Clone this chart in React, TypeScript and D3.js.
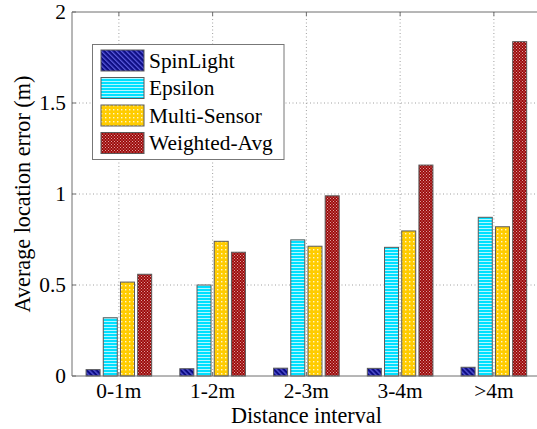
import React from "react";
import * as d3 from "d3";

// values
const intervals = ["0-1m", "1-2m", "2-3m", "3-4m", ">4m"];
const seriesNames = ["SpinLight", "Epsilon", "Multi-Sensor", "Weighted-Avg"];
const spinLight = [0.035, 0.04, 0.043, 0.042, 0.048];
const epsilon = [0.32, 0.5, 0.748, 0.707, 0.872];
const multiSensor = [0.516, 0.74, 0.713, 0.797, 0.82];
const weightedAvg = [0.559, 0.68, 0.99, 1.159, 1.837];
const yTicks = [0, 0.5, 1, 1.5, 2];
const yTickLabels = ["0", "0.5", "1", "1.5", "2"];

const seriesValues = [spinLight, epsilon, multiSensor, weightedAvg];
const patternIds = ["pSpin", "pEps", "pMulti", "pWeighted"];

const W = 537;
const H = 429;
const margin = { left: 72, top: 12, bottom: 53 };
const plotRight = 540.75;
const font = "Liberation Serif";
const axisColor = "#6e6e6e";

const App = () => {
  const x = d3.scaleLinear().domain([0.5, intervals.length + 0.5]).range([margin.left, plotRight]);
  const y = d3.scaleLinear().domain([0, 2]).range([H - margin.bottom, margin.top]);
  const inner = d3.scaleBand<string>().domain(seriesNames).range([-32.8, 32.8]).paddingInner(0.186);

  const bottom = y(0);
  const top = y(2);
  const textStyle = { fontFamily: font, fontSize: "21.4px" };
  const labelStyle = { fontFamily: font, fontSize: "22.2px" };

  return (
    <svg width={W} height={H} style={{ position: "absolute", left: 0, top: 0, background: "#fff" }}>
      <defs>
        <pattern id="pSpin" width={3.5} height={3.5} patternUnits="userSpaceOnUse" patternTransform="rotate(-45)">
          <rect width={3.5} height={3.5} fill="#0c0c82" />
          <rect width={1.3} height={3.5} fill="#5858d8" />
        </pattern>
        <pattern id="pEps" width={4} height={3} patternUnits="userSpaceOnUse">
          <rect width={4} height={3} fill="#00e0ff" />
          <rect width={4} height={1} fill="#b4f6ff" />
        </pattern>
        <pattern id="pMulti" width={4} height={4} patternUnits="userSpaceOnUse">
          <rect width={4} height={4} fill="#ffcc00" />
          <rect x={1} y={1} width={1.4} height={1.4} fill="#fff6c8" />
        </pattern>
        <pattern id="pWeighted" width={3} height={3} patternUnits="userSpaceOnUse">
          <rect width={3} height={3} fill="#9c0a0a" />
          <rect width={1} height={1} fill="#e0a0a0" />
          <rect x={1.5} y={1.5} width={1} height={1} fill="#e0a0a0" />
        </pattern>
      </defs>

      {/* grid */}
      <g stroke="#a0a0a0" strokeWidth={1} strokeDasharray="1,2.5">
        {yTicks.slice(1, -1).map((t) => (
          <line key={"gy" + t} x1={margin.left} x2={plotRight} y1={y(t)} y2={y(t)} />
        ))}
        {intervals.map((d, i) => (
          <line key={"gx" + d} x1={x(i + 1)} x2={x(i + 1)} y1={top} y2={bottom} />
        ))}
      </g>

      {/* bars */}
      {seriesValues.map((vals, s) => (
        <g key={seriesNames[s]}>
          {vals.map((v, i) => (
            <rect
              key={i}
              x={x(i + 1) + (inner(seriesNames[s]) as number)}
              y={y(v)}
              width={inner.bandwidth()}
              height={bottom - y(v)}
              fill={`url(#${patternIds[s]})`}
              stroke="#5a5a5a"
              strokeWidth={1}
            />
          ))}
        </g>
      ))}

      {/* axes box and ticks */}
      <g stroke={axisColor} strokeWidth={1} fill="none">
        <line x1={margin.left} x2={plotRight} y1={bottom} y2={bottom} />
        <line x1={margin.left} x2={plotRight} y1={top} y2={top} />
        <line x1={margin.left} x2={margin.left} y1={top} y2={bottom} />
        {yTicks.map((t) => (
          <line key={"ty" + t} x1={margin.left} x2={margin.left + 4} y1={y(t)} y2={y(t)} />
        ))}
        {intervals.map((d, i) => (
          <g key={"tx" + d}>
            <line x1={x(i + 1)} x2={x(i + 1)} y1={bottom} y2={bottom - 4} />
            <line x1={x(i + 1)} x2={x(i + 1)} y1={top} y2={top + 4} />
          </g>
        ))}
      </g>

      {/* tick labels */}
      <g fill="#000">
        {yTicks.map((t, i) => (
          <text key={"ly" + t} x={66} y={y(t) + 7} textAnchor="end" style={textStyle}>
            {yTickLabels[i]}
          </text>
        ))}
        {intervals.map((d, i) => (
          <text key={"lx" + d} x={x(i + 1)} y={398} textAnchor="middle" style={textStyle}>
            {d}
          </text>
        ))}
        <text x={(margin.left + plotRight) / 2} y={423} textAnchor="middle" style={labelStyle}>
          Distance interval
        </text>
        <text
          transform={`translate(30,${(top + bottom) / 2}) rotate(-90)`}
          textAnchor="middle"
          style={labelStyle}
        >
          Average location error (m)
        </text>
      </g>

      {/* legend */}
      <g>
        <rect x={92.5} y={44.5} width={191.5} height={115} fill="#fff" stroke="#777" strokeWidth={1} />
        {seriesNames.map((name, s) => {
          const ry = 50 + s * 27.5;
          return (
            <g key={"leg" + name}>
              <rect x={101} y={ry} width={43} height={21} fill={`url(#${patternIds[s]})`} stroke="#5a5a5a" strokeWidth={1} />
              <text x={149} y={ry + 17.5} fill="#000" style={textStyle}>
                {name}
              </text>
            </g>
          );
        })}
      </g>
    </svg>
  );
};

export default App;
